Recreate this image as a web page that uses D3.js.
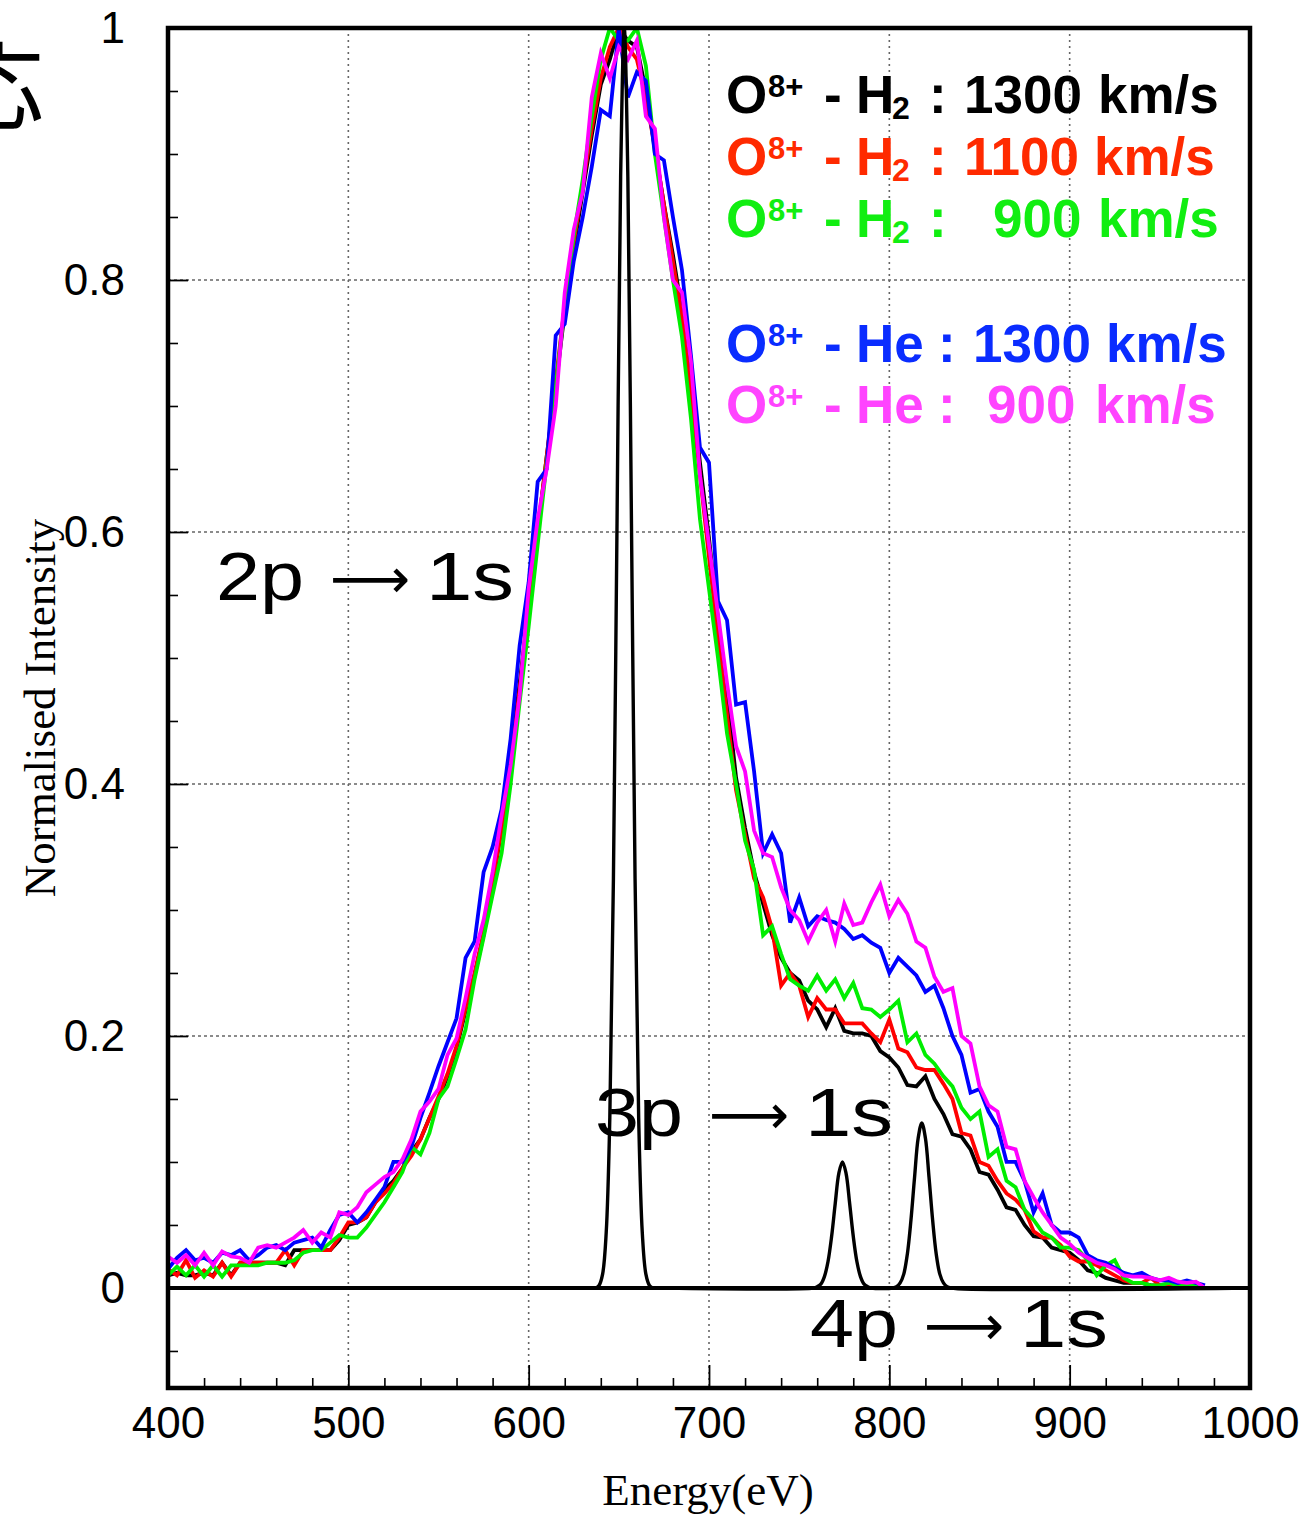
<!DOCTYPE html>
<html>
<head>
<meta charset="utf-8">
<title>O8+ X-ray spectra</title>
<script src="https://d3js.org/d3.v7.min.js"></script>
<style>
  body { margin: 0; background: #fff; }
  .tick text { font-family: "Liberation Sans", Arial, sans-serif; font-size: 44px; fill: #000; }
</style>
</head>
<body>
<div id="chart"></div>
<script>
// energy bins (eV) shared by the five measured spectra
var energy = [
  400,405,410,415,420,425,430,435,440,445,
  450,455,460,465,470,475,480,485,490,495,
  500,505,510,515,520,525,530,535,540,545,
  550,555,560,565,570,575,580,585,590,595,
  600,605,610,615,620,625,630,635,640,645,
  650,655,660,665,670,675,680,685,690,695,
  700,705,710,715,720,725,730,735,740,745,
  750,755,760,765,770,775,780,785,790,795,
  800,805,810,815,820,825,830,835,840,845,
  850,855,860,865,870,875,880,885,890,895,
  900,905,910,915,920,925,930,935,940,945,
  950,955,960,965,970,975];

var h2_1300 = [
  .010,.012,.010,.010,.012,.010,.020,.010,.020,.020,
  .020,.020,.020,.018,.030,.030,.030,.030,.030,.038,
  .050,.052,.056,.068,.078,.085,.095,.108,.118,.135,
  .150,.168,.190,.220,.248,.280,.320,.365,.420,.480,
  .540,.600,.660,.715,.775,.825,.870,.915,.955,.975,
  1.00,.990,.985,.950,.905,.860,.820,.775,.720,.655,
  .595,.530,.470,.405,.365,.330,.305,.280,.262,.250,
  .244,.228,.221,.207,.222,.204,.202,.202,.200,.188,
  .183,.175,.161,.160,.168,.150,.138,.122,.120,.110,
  .092,.090,.078,.064,.062,.050,.041,.040,.032,.030,
  .028,.022,.014,.012,.008,.006,.004,.004,.004,.002,
  .002,.002,.004,.002,.002,.000];

var h2_1100 = [
  .015,.010,.022,.008,.014,.009,.020,.009,.020,.020,
  .020,.020,.020,.030,.018,.030,.030,.030,.030,.040,
  .052,.052,.056,.068,.075,.083,.095,.105,.118,.135,
  .152,.170,.192,.222,.250,.282,.322,.365,.415,.475,
  .535,.600,.660,.720,.780,.830,.875,.920,.960,.985,
  1.00,.985,.975,.945,.905,.860,.815,.770,.710,.645,
  .580,.515,.455,.395,.360,.325,.310,.285,.240,.250,
  .240,.215,.230,.221,.221,.210,.210,.210,.202,.195,
  .213,.190,.187,.175,.173,.173,.162,.150,.123,.121,
  .100,.097,.085,.075,.070,.062,.045,.040,.040,.034,
  .025,.021,.021,.018,.014,.010,.006,.004,.004,.008,
  .002,.002,.002,.002,.002,.000];

var h2_900 = [
  .010,.017,.010,.018,.009,.018,.009,.018,.018,.018,
  .018,.020,.020,.020,.022,.028,.030,.030,.036,.042,
  .040,.040,.048,.058,.068,.080,.092,.112,.106,.123,
  .150,.160,.182,.205,.245,.278,.312,.345,.400,.465,
  .525,.590,.655,.715,.780,.835,.880,.930,.975,1.00,
  .990,.990,1.00,.970,.900,.850,.800,.755,.690,.610,
  .555,.500,.440,.400,.355,.332,.280,.287,.265,.245,
  .240,.236,.248,.236,.245,.230,.242,.222,.221,.215,
  .221,.228,.195,.202,.185,.178,.168,.160,.143,.134,
  .140,.104,.110,.085,.080,.062,.054,.044,.040,.032,
  .032,.030,.022,.010,.018,.022,.008,.004,.004,.002,
  .002,.004,.002,.002,.002,.000];

var he_1300 = [
  .015,.024,.030,.022,.024,.020,.028,.026,.030,.022,
  .026,.032,.034,.030,.036,.038,.040,.032,.046,.058,
  .060,.052,.060,.070,.080,.100,.100,.112,.135,.155,
  .176,.195,.214,.262,.275,.330,.350,.380,.436,.510,
  .560,.640,.650,.756,.765,.815,.850,.890,.935,.930,
  1.00,.945,.965,.958,.900,.895,.850,.808,.740,.667,
  .655,.545,.530,.463,.465,.410,.345,.360,.345,.290,
  .310,.287,.295,.292,.290,.285,.277,.280,.274,.270,
  .250,.262,.255,.248,.235,.240,.222,.200,.185,.155,
  .158,.140,.128,.100,.100,.085,.060,.075,.050,.044,
  .044,.040,.026,.022,.020,.016,.012,.010,.012,.008,
  .006,.006,.004,.006,.004,.002];

var he_900 = [
  .025,.020,.026,.018,.028,.018,.029,.025,.024,.020,
  .032,.034,.032,.036,.040,.046,.036,.044,.040,.060,
  .058,.064,.076,.082,.088,.092,.102,.118,.140,.148,
  .158,.185,.198,.230,.265,.292,.330,.375,.415,.470,
  .555,.610,.650,.700,.790,.840,.870,.945,.980,.960,
  .985,.975,.990,.930,.920,.850,.800,.790,.735,.645,
  .590,.535,.480,.430,.410,.363,.345,.342,.318,.300,
  .292,.275,.290,.300,.275,.305,.288,.290,.306,.320,
  .295,.308,.297,.275,.270,.247,.235,.238,.200,.194,
  .160,.145,.140,.112,.110,.085,.072,.060,.050,.040,
  .035,.028,.024,.020,.018,.015,.010,.009,.009,.008,
  .006,.008,.005,.004,.005,.000];

// calculated line profile (2p, 3p, 4p -> 1s)
var theoryE = [400,
  635,637,639,641,643,645,647,649,651,653,655,657,659,661,663,665,667,669,671,
  758,760,762,764,766,768,770,772,774,776,778,780,782,784,786,788,790,
  802,804,806,808,810,812,814,816,818,820,822,824,826,828,830,832,834,
  1000];
var theoryV = [0,
  0,.000,.002,.011,.044,.135,.325,.607,.882,1.00,.882,.607,.325,.135,.044,.011,.002,.000,0,
  0,.001,.003,.009,.021,.041,.067,.091,.100,.091,.067,.041,.021,.009,.003,.001,0,
  0,.001,.004,.011,.027,.054,.088,.119,.131,.119,.088,.054,.027,.011,.004,.001,0,
  0];

var seriesNames = ["h2_1300", "h2_1100", "h2_900", "he_1300", "he_900"];
var seriesValues = [h2_1300, h2_1100, h2_900, he_1300, he_900];
var lineColors = ["#000000", "#ff0000", "#00ee00", "#0000ff", "#ff00ff"];

var xMajor = [400, 500, 600, 700, 800, 900, 1000];
var xMinor = [420,440,460,480,520,540,560,580,620,640,660,680,720,740,760,780,820,840,860,880,920,940,960,980];
var yMajor = [0, 0.2, 0.4, 0.6, 0.8, 1];
var yMinor = [-0.05,0.05,0.1,0.15,0.25,0.3,0.35,0.45,0.5,0.55,0.65,0.7,0.75,0.85,0.9,0.95];
var xGrid = [500, 600, 700, 800, 900];
var yGrid = [0.2, 0.4, 0.6, 0.8];

var W = 1305, H = 1516;
var svg = d3.select("#chart").append("svg")
  .attr("width", W).attr("height", H)
  .style("background", "#fff");

var x = d3.scaleLinear().domain([400, 1000]).range([168, 1250]);
var y = d3.scaleLinear().domain([-0.0794, 1]).range([1388, 28]);

svg.append("defs").append("clipPath").attr("id", "plotclip")
  .append("rect").attr("x", 168).attr("y", 28).attr("width", 1082).attr("height", 1360);

// grid
svg.append("g").selectAll("line").data(xGrid).enter().append("line")
  .attr("x1", function(d){ return x(d); }).attr("x2", function(d){ return x(d); })
  .attr("y1", 28).attr("y2", 1388)
  .attr("stroke", "#666").attr("stroke-width", 1.6).attr("stroke-dasharray", "2,4");
svg.append("g").selectAll("line").data(yGrid).enter().append("line")
  .attr("y1", function(d){ return y(d); }).attr("y2", function(d){ return y(d); })
  .attr("x1", 168).attr("x2", 1250)
  .attr("stroke", "#666").attr("stroke-width", 1.6).attr("stroke-dasharray", "3,3");

// axes (ticks point inward)
svg.append("g").attr("transform", "translate(0,1388)")
  .call(d3.axisBottom(x).tickValues(xMinor).tickSize(-10).tickFormat(""))
  .call(function(g){ g.select(".domain").remove(); g.selectAll("line").attr("stroke-width", 1.6); });
svg.append("g").attr("transform", "translate(0,1388)")
  .call(d3.axisBottom(x).tickValues(xMajor).tickSize(-23).tickPadding(19).tickFormat(d3.format("d")))
  .call(function(g){ g.select(".domain").remove(); g.selectAll("line").attr("stroke-width", 1.8); });

svg.append("g").attr("transform", "translate(168,0)")
  .call(d3.axisLeft(y).tickValues(yMinor).tickSize(-10).tickFormat(""))
  .call(function(g){ g.select(".domain").remove(); g.selectAll("line").attr("stroke-width", 1.6); });
svg.append("g").attr("transform", "translate(168,0)")
  .call(d3.axisLeft(y).tickValues(yMajor).tickSize(-20).tickPadding(43)
    .tickFormat(function(d){ return (d === 0 || d === 1) ? String(d) : d3.format(".1f")(d); }))
  .call(function(g){ g.select(".domain").remove(); g.selectAll("line").attr("stroke-width", 1.8); });

// curves
var line = d3.line()
  .x(function(d){ return x(d[0]); })
  .y(function(d){ return y(d[1]); });

var plot = svg.append("g").attr("clip-path", "url(#plotclip)");

seriesValues.forEach(function(vals, i) {
  var pts = energy.map(function(e, j){ return [e, vals[j]]; });
  plot.append("path").datum(pts)
    .attr("class", seriesNames[i])
    .attr("d", line)
    .attr("fill", "none")
    .attr("stroke", lineColors[i])
    .attr("stroke-width", 3.8)
    .attr("stroke-linejoin", "miter");
});

// zero line
svg.append("line")
  .attr("x1", 168).attr("x2", 1250).attr("y1", y(0)).attr("y2", y(0))
  .attr("stroke", "#000").attr("stroke-width", 4);

var theoryLine = d3.line()
  .x(function(d){ return x(d[0]); })
  .y(function(d){ return y(d[1]); })
  .curve(d3.curveCatmullRom);
plot.append("path")
  .datum(theoryE.map(function(e, j){ return [e, theoryV[j]]; }))
  .attr("d", theoryLine)
  .attr("fill", "none").attr("stroke", "#000").attr("stroke-width", 3.4);

// frame
svg.append("rect")
  .attr("x", 168).attr("y", 28).attr("width", 1082).attr("height", 1360)
  .attr("fill", "none").attr("stroke", "#000").attr("stroke-width", 4.5);

// axis titles
svg.append("text")
  .attr("x", 708).attr("y", 1505)
  .attr("text-anchor", "middle")
  .style("font-family", "'Liberation Serif', 'Times New Roman', serif")
  .style("font-size", "45px")
  .text("Energy(eV)");
svg.append("text")
  .attr("transform", "translate(55,708) rotate(-90)")
  .attr("text-anchor", "middle")
  .style("font-family", "'Liberation Serif', 'Times New Roman', serif")
  .style("font-size", "45px")
  .text("Normalised Intensity");

// partly hidden glyph at the top-left edge
svg.append("text")
  .attr("x", -4).attr("y", 122)
  .attr("text-anchor", "middle")
  .style("font-family", "'Noto Sans CJK JP', sans-serif")
  .style("font-size", "96px")
  .text("応");

// transition labels: "np", arrow, "1s"
var transitions = [
  {left: "2p", right: "1s", x: 216, y: 600},
  {left: "3p", right: "1s", x: 595, y: 1136},
  {left: "4p", right: "1s", x: 810, y: 1347}
];
var tr = svg.append("g")
  .style("font-family", "'Liberation Sans', Arial, sans-serif")
  .style("font-size", "68px");
transitions.forEach(function(d) {
  tr.append("text").attr("x", d.x).attr("y", d.y)
    .attr("textLength", 88).attr("lengthAdjust", "spacingAndGlyphs").text(d.left);
  tr.append("text").attr("x", d.x + 114).attr("y", d.y - 22)
    .attr("text-anchor", "start")
    .attr("dominant-baseline", "central")
    .style("font-family", "'DejaVu Sans', sans-serif")
    .style("font-size", "56px")
    .text("\u27F6");
  tr.append("text").attr("x", d.x + 210).attr("y", d.y)
    .attr("textLength", 88).attr("lengthAdjust", "spacingAndGlyphs").text(d.right);
});

// legend
var legendRows = [
  {ion: "O", chg: "8+", tgt: "H", sub: "2", speed: "1300", color: "#000000", y: 113, colonX: 929, numX: 964, unitX: 1098},
  {ion: "O", chg: "8+", tgt: "H", sub: "2", speed: "1100", color: "#ff2a00", y: 175, colonX: 929, numX: 964, unitX: 1094},
  {ion: "O", chg: "8+", tgt: "H", sub: "2", speed: "900", color: "#11ee11", y: 237, colonX: 929, numX: 993, unitX: 1098},
  {ion: "O", chg: "8+", tgt: "He", sub: "", speed: "1300", color: "#0a2cff", y: 362, colonX: 938, numX: 973, unitX: 1106},
  {ion: "O", chg: "8+", tgt: "He", sub: "", speed: "900", color: "#ff44ff", y: 423, colonX: 938, numX: 987, unitX: 1095}
];
var leg = svg.append("g")
  .style("font-family", "'Liberation Sans', Arial, sans-serif")
  .style("font-weight", "bold");
legendRows.forEach(function(r) {
  var g = leg.append("g").attr("fill", r.color);
  g.append("text").attr("x", 726).attr("y", r.y).style("font-size", "53px").text(r.ion);
  g.append("text").attr("x", 768).attr("y", r.y - 16).style("font-size", "31px").text(r.chg);
  g.append("text").attr("x", 824).attr("y", r.y).style("font-size", "53px").text("-");
  g.append("text").attr("x", 856).attr("y", r.y).style("font-size", "53px").text(r.tgt);
  if (r.sub) g.append("text").attr("x", 892).attr("y", r.y + 6).style("font-size", "32px").text(r.sub);
  g.append("text").attr("x", r.colonX).attr("y", r.y).style("font-size", "53px").text(":");
  g.append("text").attr("x", r.numX).attr("y", r.y).style("font-size", "53px").text(r.speed);
  g.append("text").attr("x", r.unitX).attr("y", r.y).style("font-size", "53px").text("km/s");
});
</script>
</body>
</html>
